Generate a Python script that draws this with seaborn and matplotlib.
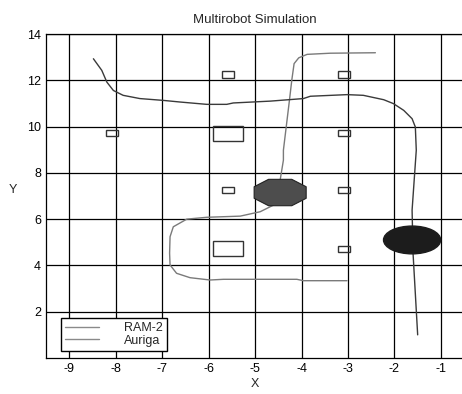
import numpy as np
import pandas as pd
import seaborn as sns
import matplotlib.pyplot as plt
from matplotlib.patches import Rectangle, Ellipse, Polygon

# robot paths
ram2_x = [-2.41, -3.38, -3.88, -4.06, -4.16, -4.21, -4.26, -4.39, -4.39, -4.46, -4.53,
          -4.60, -4.89, -5.32, -6.04, -6.47, -6.76, -6.83, -6.84, -6.83, -6.69, -6.40,
          -5.97, -5.68, -5.32, -4.10, -3.96, -3.02]
ram2_y = [13.19, 13.17, 13.12, 12.97, 12.72, 12.00, 11.14, 8.98, 8.55, 7.69, 7.10,
          6.61, 6.32, 6.13, 6.08, 6.00, 5.67, 5.24, 4.53, 4.02, 3.66, 3.47,
          3.37, 3.40, 3.40, 3.40, 3.34, 3.34]
auriga_x = [-8.48, -8.30, -8.19, -8.05, -7.84, -7.48, -6.97, -6.61, -6.04, -5.61, -5.47,
            -4.67, -3.96, -3.81, -3.02, -2.67, -2.23, -2.02, -1.80, -1.62, -1.55, -1.53,
            -1.62, -1.60, -1.50]
auriga_y = [12.93, 12.43, 11.92, 11.56, 11.35, 11.21, 11.13, 11.06, 10.96, 10.96, 11.02,
            11.10, 11.21, 11.31, 11.38, 11.35, 11.16, 10.99, 10.70, 10.34, 9.98, 8.98,
            6.39, 4.54, 1.00]

# obstacles: centre x, centre y, width, height
obs_x = [-5.58, -3.08, -8.08, -5.58, -3.08, -5.58, -3.08, -5.58, -3.08]
obs_y = [12.25, 12.25, 9.72, 9.72, 9.72, 7.25, 7.25, 4.72, 4.72]
obs_w = [0.25, 0.25, 0.27, 0.63, 0.25, 0.25, 0.25, 0.63, 0.25]
obs_h = [0.26, 0.26, 0.26, 0.65, 0.26, 0.26, 0.26, 0.65, 0.26]

# robot bodies
ram2_pos = (-4.46, 7.15)
auriga_pos = (-1.62, 5.10)

df = pd.concat([
    pd.DataFrame({"x": ram2_x, "y": ram2_y, "robot": "RAM-2"}),
    pd.DataFrame({"x": auriga_x, "y": auriga_y, "robot": "Auriga"}),
])

sns.set_style("white")
plt.rcParams["font.family"] = ["Liberation Sans", "DejaVu Sans"]
plt.rcParams["axes.unicode_minus"] = False

fig = plt.figure(figsize=(4.62, 3.94), dpi=100)
ax = fig.add_axes([0.0996, 0.0914, 0.905, 0.8223])

sns.lineplot(data=df, x="x", y="y", hue="robot", sort=False, estimator=None,
             palette={"RAM-2": "#7a7a7a", "Auriga": "#3a3a3a"}, lw=1, ax=ax, zorder=3)

for cx, cy, w, h in zip(obs_x, obs_y, obs_w, obs_h):
    ax.add_patch(Rectangle((cx - w / 2, cy - h / 2), w, h, fill=False,
                           edgecolor="#333333", lw=1, zorder=4))

# octagon for RAM-2
cx, cy = ram2_pos
octo = [(-0.25, 0.57), (0.25, 0.57), (0.56, 0.25), (0.56, -0.25),
        (0.25, -0.57), (-0.25, -0.57), (-0.56, -0.25), (-0.56, 0.25)]
ax.add_patch(Polygon([(cx + dx, cy + dy) for dx, dy in octo], closed=True,
                     facecolor="#4d4d4d", edgecolor="#222222", lw=0.8, zorder=5))
ax.add_patch(Ellipse(auriga_pos, 1.23, 1.2, facecolor="#1c1c1c",
                     edgecolor="#1c1c1c", zorder=5))

ax.set_xlim(-9.5, -0.5)
ax.set_ylim(0, 14)
ax.set_xticks(range(-9, 0))
ax.set_yticks(range(2, 15, 2))
ax.grid(True, color="black", lw=0.9)
ax.set_axisbelow(True)
for s in ax.spines.values():
    s.set_color("black")
    s.set_linewidth(0.9)
ax.tick_params(labelsize=9, colors="black", direction="in", length=3)

ax.set_title("Multirobot Simulation", fontsize=9.5, pad=8)
ax.set_xlabel("X", fontsize=9, labelpad=2)
ax.set_ylabel("Y", fontsize=9, rotation=0, labelpad=10)

handles, labels = ax.get_legend_handles_labels()
leg = ax.legend(handles, labels, loc="lower left", bbox_to_anchor=(0.036, 0.021),
                borderaxespad=0, fontsize=9, frameon=True, fancybox=False,
                edgecolor="black", framealpha=1, handlelength=2.7,
                labelspacing=0.05, borderpad=0.35, handletextpad=2.0)
leg.get_frame().set_linewidth(1)
for ln in leg.get_lines():
    ln.set_color("#8a8a8a")

fig.savefig("out.png", dpi=100)
plt.close("all")
